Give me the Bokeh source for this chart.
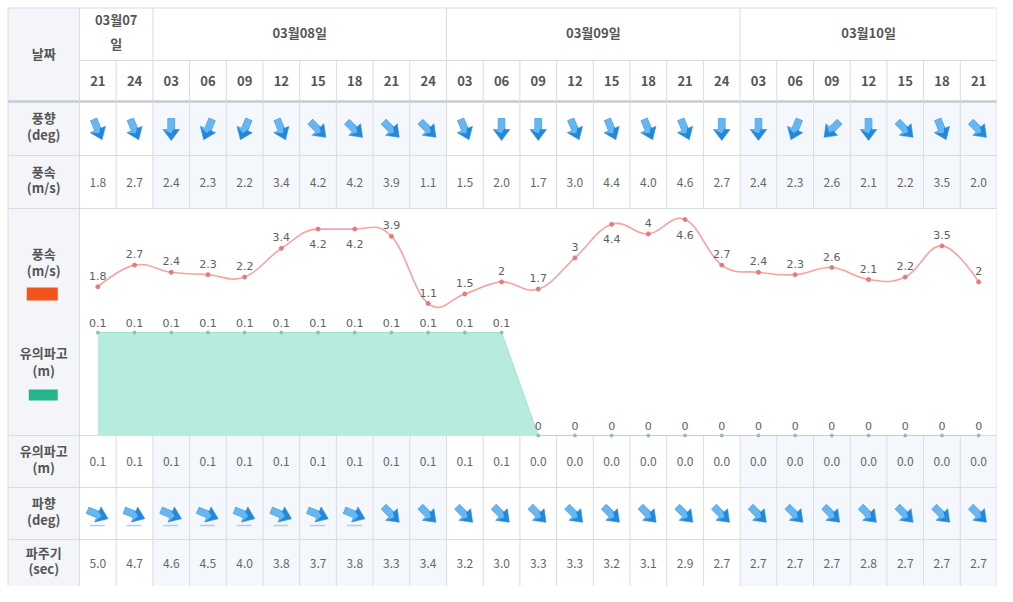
import numpy as np
from bokeh.plotting import figure
from bokeh.models import Range1d, ColumnDataSource
from bokeh.core.properties import value
from bokeh.embed import file_html
from bokeh.resources import INLINE

# ---------------- data ----------------
dates = ["03월07일", "03월08일", "03월09일", "03월10일"]
date_spans = [2, 8, 8, 7]
hours = ["21", "24", "03", "06", "09", "12", "15", "18", "21", "24",
         "03", "06", "09", "12", "15", "18", "21", "24",
         "03", "06", "09", "12", "15", "18", "21"]
# wind direction (degrees the wind comes from)
wind_dir = [337.5, 337.5, 0, 22.5, 22.5, 337.5, 315, 315, 315, 315,
            337.5, 0, 0, 337.5, 337.5, 337.5, 337.5, 0,
            0, 22.5, 45, 0, 315, 337.5, 315]
wind_speed = [1.8, 2.7, 2.4, 2.3, 2.2, 3.4, 4.2, 4.2, 3.9, 1.1,
              1.5, 2.0, 1.7, 3.0, 4.4, 4.0, 4.6, 2.7,
              2.4, 2.3, 2.6, 2.1, 2.2, 3.5, 2.0]
wave_height = [0.1, 0.1, 0.1, 0.1, 0.1, 0.1, 0.1, 0.1, 0.1, 0.1,
               0.1, 0.1, 0.0, 0.0, 0.0, 0.0, 0.0, 0.0,
               0.0, 0.0, 0.0, 0.0, 0.0, 0.0, 0.0]
# wave direction (degrees the waves come from)
wave_dir = [292.5, 292.5, 292.5, 292.5, 292.5, 292.5, 292.5, 292.5, 315, 315,
            315, 315, 315, 315, 315, 315, 315, 315,
            315, 315, 315, 315, 315, 315, 315]
wave_period = [5.0, 4.7, 4.6, 4.5, 4.0, 3.8, 3.7, 3.8, 3.3, 3.4,
               3.2, 3.0, 3.3, 3.3, 3.2, 3.1, 2.9, 2.7,
               2.7, 2.7, 2.7, 2.8, 2.7, 2.7, 2.7]

# ---------------- layout (pixels) ----------------
W, H = 997, 586
TL = 7.5          # table left
LBL_R = 79.0      # label column right edge
N = len(hours)
COLW = (W - 0.5 - LBL_R) / N
TR = LBL_R + COLW * N
Y = [7.5, 60, 101, 155, 208, 435, 487, 539, 586]
cx = [LBL_R + COLW * (i + 0.5) for i in range(N)]
LBL_CX = (TL + LBL_R) / 2

# value scales of the chart band
WIND_PX0, WIND_PPU = 329.4, 24.0     # pixel of 0 m/s, pixels per m/s
WAVE_PX0, WAVE_PPU = 435.0, 1030.0   # pixel of 0 m, pixels per m

FONT = value("Noto Sans CJK KR")
LBL_COL = "#555555"
GRID = "#d8dce1"

p = figure(width=W, height=H, output_backend="svg", toolbar_location=None,
           x_range=Range1d(0, W), y_range=Range1d(H, 0),
           x_axis_location=None, y_axis_location=None, min_border=0,
           outline_line_color=None, background_fill_color="white",
           border_fill_color="white")
p.grid.visible = False
p.extra_y_ranges = {
    "wind": Range1d((WIND_PX0 - H) / WIND_PPU, WIND_PX0 / WIND_PPU),
    "wave": Range1d((WAVE_PX0 - H) / WAVE_PPU, WAVE_PX0 / WAVE_PPU),
}

# ---------------- backgrounds ----------------
p.quad(left=[TL], right=[LBL_R], top=[Y[0]], bottom=[Y[-1]],
       fill_color="#f3f5f8", line_color=None)
starts = np.cumsum([0] + date_spans[:-1])
tl, tr, tt, tb = [], [], [], []
for k, (s, n) in enumerate(zip(starts, date_spans)):
    if k % 2 == 1:
        for (a, b) in [(Y[2], Y[4]), (Y[5], Y[8])]:
            tl.append(LBL_R + COLW * s); tr.append(LBL_R + COLW * (s + n))
            tt.append(a); tb.append(b)
p.quad(left=tl, right=tr, top=tt, bottom=tb, fill_color="#f4f8fc", line_color=None)

# ---------------- grid lines ----------------
hx0, hx1, hy = [], [], []
for j, y in enumerate(Y[:-1]):
    hx0.append(TL if j != 1 else LBL_R); hx1.append(TR); hy.append(y)
p.segment(x0=hx0, y0=hy, x1=hx1, y1=hy, line_color=GRID, line_width=1)
p.segment(x0=[TL], y0=[Y[2]], x1=[TR], y1=[Y[2]], line_color="#c6cbd1", line_width=2.5)

vx, vy0, vy1 = [TL, LBL_R, TR], [Y[0], Y[0], Y[0]], [Y[-1], Y[-1], Y[-1]]
for s in np.cumsum(date_spans)[:-1]:
    vx.append(LBL_R + COLW * s); vy0.append(Y[0]); vy1.append(Y[1])
for i in range(1, N):
    for (a, b) in [(Y[1], Y[4]), (Y[5], Y[8])]:
        vx.append(LBL_R + COLW * i); vy0.append(a); vy1.append(b)
p.segment(x0=vx, y0=vy0, x1=vx, y1=vy1, line_color=GRID, line_width=1)

# ---------------- label column ----------------
def rc(j):
    return (Y[j] + Y[j + 1]) / 2

lab_t, lab_y = [], []
def two(a, b, c):
    lab_t.extend([a, b]); lab_y.extend([c - 8, c + 8.5])
lab_t.append("날짜"); lab_y.append((Y[0] + Y[2]) / 2 - 1)
two("풍향", "(deg)", rc(2) - 3)
two("풍속", "(m/s)", rc(3) - 3)
lab_t.extend(["풍속", "(m/s)", "유의파고", "(m)"])
lab_y.extend([Y[4] + 45, Y[4] + 62, Y[4] + 144, Y[4] + 162])
two("유의파고", "(m)", rc(5) - 3)
two("파향", "(deg)", rc(6) - 3)
two("파주기", "(sec)", rc(7) - 3)
p.text(x=[LBL_CX] * len(lab_t), y=lab_y, text=lab_t, text_font=FONT,
       text_font_style="bold", text_font_size="13px", text_color=LBL_COL,
       text_align="center", text_baseline="middle")
# legend swatches
p.quad(left=[LBL_CX - 17, LBL_CX - 15], right=[LBL_CX + 14, LBL_CX + 14],
       top=[Y[4] + 79, Y[4] + 181], bottom=[Y[4] + 92, Y[4] + 192],
       fill_color=["#f2541b", "#27b38c"], line_color=None)

# ---------------- header ----------------
dx, dy, dt = [], [], []
for k, (s, n) in enumerate(zip(starts, date_spans)):
    mid = LBL_R + COLW * (s + n / 2)
    if n <= 2:
        dx += [mid, mid]; dy += [19, 43]; dt += [dates[k][:-1], dates[k][-1]]
    else:
        dx.append(mid); dy.append(32); dt.append(dates[k])
p.text(x=dx, y=dy, text=dt, text_font=FONT, text_font_style="bold",
       text_font_size="13px", text_color=LBL_COL, text_align="center",
       text_baseline="middle")
p.text(x=cx, y=[rc(1)] * N, text=hours, text_font=FONT, text_font_style="bold",
       text_font_size="13px", text_color=LBL_COL, text_align="center",
       text_baseline="middle")

# ---------------- value rows ----------------
def row_text(vals, j, fmt="{:.1f}"):
    p.text(x=cx, y=[rc(j)] * N, text=[fmt.format(v) for v in vals], text_font=FONT,
           text_font_size="12px", text_color="#666666", text_align="center",
           text_baseline="middle")
row_text(wind_speed, 3)
row_text(wave_height, 5)
row_text(wave_period, 7)

# ---------------- direction arrows ----------------
ARROW = np.array([(-3.4, -11), (3.4, -11), (3.4, 0), (8.2, 0), (0, 11), (-8.2, 0), (-3.4, 0)])
LIGHT = np.array([(-3.4, -11), (3.4, -11), (3.4, -2), (0, 4), (-8.2, 0), (-3.4, 0)])

def rot(shape, x, yc, d):
    phi = np.radians((d + 180) % 360 - 180)
    c, s = np.cos(phi), np.sin(phi)
    return (list(x + shape[:, 0] * c - shape[:, 1] * s),
            list(yc + shape[:, 0] * s + shape[:, 1] * c))

def arrows(dirs, yc):
    xa, ya, xl, yl = [], [], [], []
    for x, d in zip(cx, dirs):
        a = rot(ARROW, x, yc, d); xa.append(a[0]); ya.append(a[1])
        b = rot(LIGHT, x, yc, d); xl.append(b[0]); yl.append(b[1])
    p.patches(xs=xa, ys=ya, fill_color="#2188dc", line_color="#2a8ddc", line_width=0.6)
    p.patches(xs=xl, ys=yl, fill_color="#68b6ef", line_color=None)

arrows(wind_dir, rc(2) + 1)
arrows(wave_dir, rc(6) + 1)
wave_icon = [i for i, d in enumerate(wave_dir) if d < 300]
p.segment(x0=[cx[i] - 8 for i in wave_icon], x1=[cx[i] + 7 for i in wave_icon],
          y0=[rc(6) + 12] * len(wave_icon), y1=[rc(6) + 12] * len(wave_icon),
          line_color="#a9cfee", line_width=1.5)

# ---------------- chart band ----------------
p.varea(x=cx, y1=[0] * N, y2=wave_height, y_range_name="wave", fill_color="#b6ebde")
p.line(x=cx, y=wave_height, y_range_name="wave", line_color="#a3e0d0", line_width=1)
p.scatter(x=cx, y=wave_height, y_range_name="wave", size=3, color="#8cbfb2")

# wind speed spline (bezier segments)
xs = np.array(cx); ys = np.array(wind_speed)
lcx, lcy, rcx, rcy = xs.copy(), ys.copy(), xs.copy(), ys.copy()
sm = 1.5
for i in range(1, N - 1):
    lcx[i] = (sm * xs[i] + xs[i - 1]) / (sm + 1)
    lcy[i] = (sm * ys[i] + ys[i - 1]) / (sm + 1)
    rcx[i] = (sm * xs[i] + xs[i + 1]) / (sm + 1)
    rcy[i] = (sm * ys[i] + ys[i + 1]) / (sm + 1)
    corr = (rcy[i] - lcy[i]) * (rcx[i] - xs[i]) / (rcx[i] - lcx[i]) + ys[i] - rcy[i]
    lcy[i] += corr; rcy[i] += corr
    # keep control points from overshooting flat neighbours
    if ys[i] == ys[i - 1] or ys[i] == ys[i + 1]:
        lcy[i] = rcy[i] = ys[i]
bz = ColumnDataSource(dict(x0=xs[:-1], y0=ys[:-1], x1=xs[1:], y1=ys[1:],
                           cx0=rcx[:-1], cy0=rcy[:-1], cx1=lcx[1:], cy1=lcy[1:]))
p.bezier(x0="x0", y0="y0", x1="x1", y1="y1", cx0="cx0", cy0="cy0", cx1="cx1", cy1="cy1",
         source=bz, y_range_name="wind", line_color="#f6a3a3", line_width=1.6)
p.scatter(x=cx, y=wind_speed, y_range_name="wind", size=4, color="#e07c7c")

# data labels
LFONT = value("DejaVu Sans")
above = [i for i, v in enumerate(wind_speed) if WIND_PX0 - WIND_PPU * v - 19 >= Y[4] + 4]
below = [i for i in range(N) if i not in above]
for idx, base, off in [(above, "bottom", -7), (below, "top", 11)]:
    p.text(x=[cx[i] for i in idx], y=[wind_speed[i] for i in idx],
           text=["{:g}".format(wind_speed[i]) for i in idx], y_range_name="wind",
           text_font=LFONT, text_font_size="11px", text_color="#606060",
           text_align="center", text_baseline=base, y_offset=off)
p.text(x=cx, y=wave_height, text=["{:g}".format(v) for v in wave_height],
       y_range_name="wave", text_font=LFONT, text_font_size="11px",
       text_color="#606060", text_align="center", text_baseline="bottom", y_offset=-6)

open("out.html", "w").write(file_html(p, INLINE))
